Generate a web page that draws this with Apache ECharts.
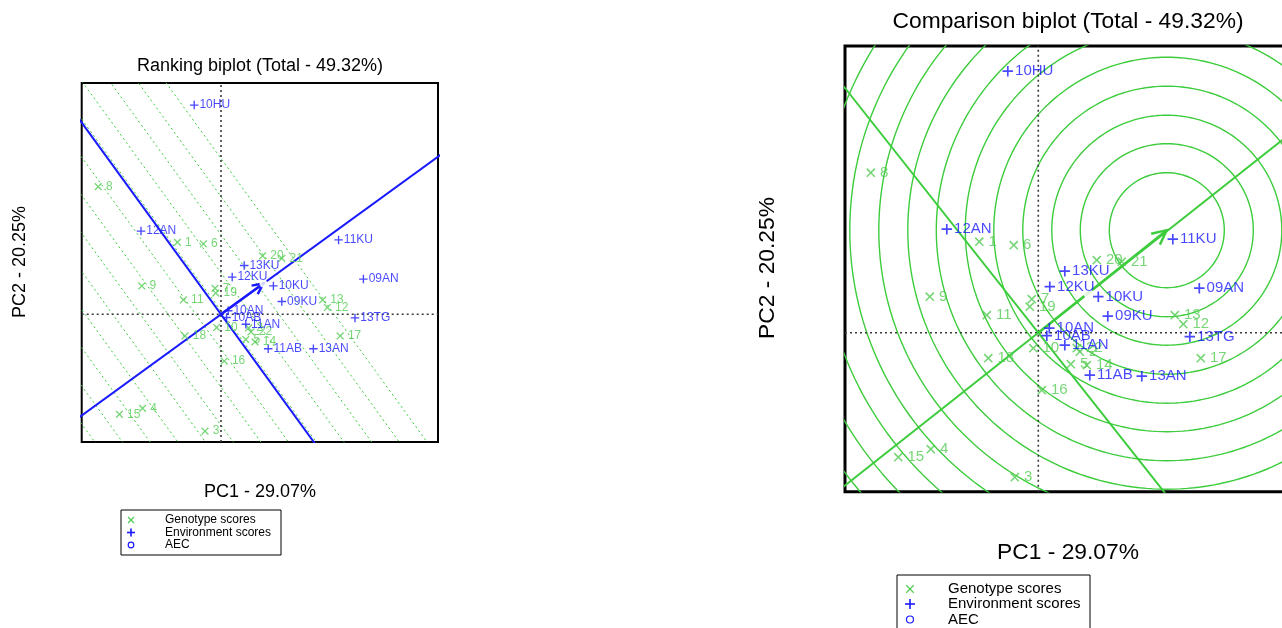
<!DOCTYPE html>
<html>
<head>
<meta charset="utf-8">
<script src="https://cdn.jsdelivr.net/npm/echarts@6/dist/echarts.min.js"></script>
<style>
  html, body { margin: 0; padding: 0; background: #fff; }
  #c { width: 1282px; height: 628px; }
</style>
</head>
<body>
<div id="c"></div>
<script>
// ---- Biplot scores (PC1, PC2) ----
const genotypeNames = ['1','2','3','4','5','6','7','8','9','10','11','12','13','14','15','16','17','18','19','20','21','22'];
const envNames = ['10HU','12AN','11KU','13KU','12KU','10KU','09AN','09KU','13TG','10AN','10AB','11AN','11AB','13AN'];

// Ranking biplot
const rankGenoX = [-1.09, 0.69, -0.40, -1.96, 0.62, -0.44, -0.15, -3.07, -1.98, -0.11, -0.94, 2.66, 2.54, 0.85, -2.54, 0.08, 2.98, -0.90, -0.13, 1.04, 1.52, 0.75];
const rankGenoY = [1.80, -0.34, -2.92, -2.35, -0.63, 1.76, 0.65, 3.19, 0.71, -0.33, 0.36, 0.17, 0.36, -0.69, -2.50, -1.17, -0.54, -0.54, 0.53, 1.46, 1.40, -0.44];
const rankEnvX = [-0.67, -2.00, 2.94, 0.58, 0.28, 1.31, 3.56, 1.52, 3.35, 0.18, 0.14, 0.62, 1.18, 2.31];
const rankEnvY = [5.23, 2.08, 1.86, 1.22, 0.93, 0.71, 0.88, 0.32, -0.09, 0.09, -0.08, -0.25, -0.86, -0.86];
const rankAEC = [1.06, 0.77];
// positions of the ranking guide lines along the AEC abscissa
const rankLevels = [2.29, 1.73, 1.17, 0.61, 0.05, -0.51, -1.07, -1.63, -2.19, -2.75, -3.31, -3.87, -4.43];

// Comparison biplot
const compGenoX = [-1.18, 0.83, -0.47, -2.15, 0.65, -0.49, -0.13, -3.35, -2.17, -0.10, -1.03, 2.90, 2.73, 0.97, -2.80, 0.07, 3.25, -1.00, -0.17, 1.17, 1.67, 0.77];
const compGenoY = [1.82, -0.38, -2.89, -2.33, -0.63, 1.75, 0.67, 3.20, 0.72, -0.31, 0.35, 0.17, 0.35, -0.65, -2.49, -1.15, -0.51, -0.51, 0.52, 1.45, 1.42, -0.31];
const compEnvX = [-0.61, -1.83, 2.69, 0.53, 0.23, 1.20, 3.22, 1.39, 3.03, 0.22, 0.17, 0.53, 1.03, 2.07];
const compEnvY = [5.23, 2.07, 1.87, 1.23, 0.92, 0.72, 0.89, 0.33, -0.08, 0.09, -0.06, -0.25, -0.85, -0.87];
const compAEC = [1.00, 0.79];
const compIdeal = [2.57, 2.05];
const compRingRadii = [1.15, 1.73, 2.30, 2.88, 3.46, 4.03, 4.61, 5.18, 5.76, 6.34, 6.91, 7.49, 8.06];

// ---- styling ----
const FONT = '"Liberation Sans", Arial, Helvetica, sans-serif';
const BLUE = '#1a1aff';
const GENO = '#55cc55';
const GUIDE = '#3ccc3c';
const PLUS = 'path://M4.2,0H5.8V4.2H10V5.8H5.8V10H4.2V5.8H0V4.2H4.2Z';
const THIN = 'path://M4.3,0H5.7V4.3H10V5.7H5.7V10H4.3V5.7H0V4.3H4.3Z';

const panels = [
  { grid: { left: 81.7, top: 83, width: 356.3, height: 359 }, x: [-3.4825, 5.425], y: [-3.1925, 5.7825], border: 2 },
  { grid: { left: 845, top: 46, width: 445, height: 445.7 }, x: [-3.866, 5.034], y: [-3.18, 5.734], border: 3 }
];

function zip(xs, ys, names) { return xs.map((x, i) => ({ value: [x, ys[i]], name: names[i] })); }

function seg(i, p, q, color, width, type, z) {
  return { type: 'line', xAxisIndex: i, yAxisIndex: i, data: [p, q], symbol: 'none', showSymbol: false,
    silent: true, clip: true, z: z || 2, lineStyle: { color, width, type: type || 'solid' } };
}

function arrow(i, tip, color, head, lw) {
  return { type: 'custom', xAxisIndex: i, yAxisIndex: i, data: [tip], silent: true, z: 6, clip: true,
    renderItem(params, api) {
      const p1 = api.coord([0, 0]);
      const p2 = api.coord([api.value(0), api.value(1)]);
      const ang = Math.atan2(p2[1] - p1[1], p2[0] - p1[0]);
      const a1 = ang + Math.PI - 0.45, a2 = ang + Math.PI + 0.45;
      return { type: 'group', children: [
        { type: 'line', shape: { x1: p1[0], y1: p1[1], x2: p2[0], y2: p2[1] }, style: { stroke: color, lineWidth: lw } },
        { type: 'polyline', shape: { points: [
            [p2[0] + head * Math.cos(a1), p2[1] + head * Math.sin(a1)], p2,
            [p2[0] + head * Math.cos(a2), p2[1] + head * Math.sin(a2)]] },
          style: { stroke: color, fill: null, lineWidth: lw } }
      ] };
    } };
}

function scoreSeries(i, name, data, symbol, size, rotate, color, fontSize, gap) {
  return { type: 'scatter', name, xAxisIndex: i, yAxisIndex: i, data, symbol, symbolSize: size, symbolRotate: rotate,
    silent: true, z: 8, itemStyle: { color },
    label: { show: true, position: 'right', distance: gap, formatter: '{b}', color, fontSize, fontFamily: FONT } };
}

const series = [];

// axes through the origin (dotted)
panels.forEach((p, i) => {
  series.push(seg(i, [p.x[0], 0], [p.x[1], 0], '#3a3a3a', 1.6, [2, 3], 3));
  series.push(seg(i, [0, p.y[0]], [0, p.y[1]], '#3a3a3a', 1.6, [2, 3], 3));
});

// Ranking biplot: AEC abscissa / ordinate and ranking guide lines
(function () {
  const L = Math.hypot(rankAEC[0], rankAEC[1]);
  const u = [rankAEC[0] / L, rankAEC[1] / L];
  const v = [-u[1], u[0]];
  const far = 30;
  rankLevels.forEach(t => {
    series.push(seg(0, [t * u[0] + far * v[0], t * u[1] + far * v[1]], [t * u[0] - far * v[0], t * u[1] - far * v[1]], GUIDE, 1, [2, 3], 1));
  });
  series.push(seg(0, [-far * u[0], -far * u[1]], [far * u[0], far * u[1]], BLUE, 2, 'solid', 4));
  series.push(seg(0, [-far * v[0], -far * v[1]], [far * v[0], far * v[1]], BLUE, 2, 'solid', 4));
  series.push(arrow(0, rankAEC, BLUE, 12, 2.5));
})();

// Comparison biplot: rings around the ideal genotype, AEC lines
(function () {
  const L = Math.hypot(compAEC[0], compAEC[1]);
  const u = [compAEC[0] / L, compAEC[1] / L];
  const v = [-u[1], u[0]];
  const far = 30;
  compRingRadii.forEach(r => {
    const pts = [];
    for (let k = 0; k <= 240; k++) {
      const a = (k / 240) * Math.PI * 2;
      pts.push([compIdeal[0] + r * Math.cos(a), compIdeal[1] + r * Math.sin(a)]);
    }
    series.push({ type: 'line', xAxisIndex: 1, yAxisIndex: 1, data: pts, symbol: 'none', showSymbol: false,
      silent: true, clip: true, z: 1, lineStyle: { color: GUIDE, width: 1.4 } });
  });
  series.push(seg(1, [-far * u[0], -far * u[1]], [far * u[0], far * u[1]], GUIDE, 2, 'solid', 4));
  series.push(seg(1, [-far * v[0], -far * v[1]], [far * v[0], far * v[1]], GUIDE, 2, 'solid', 4));
  series.push(arrow(1, compIdeal, GUIDE, 16, 2.4));
})();

// score markers with labels
series.push(scoreSeries(0, 'Genotype scores', zip(rankGenoX, rankGenoY, genotypeNames), THIN, 9.5, 45, GENO, 12, 1));
series.push(scoreSeries(0, 'Environment scores', zip(rankEnvX, rankEnvY, envNames), PLUS, 8.5, 0, BLUE, 12, 1));
series.push(scoreSeries(1, 'Genotype scores', zip(compGenoX, compGenoY, genotypeNames), THIN, 11.5, 45, GENO, 15, 1));
series.push(scoreSeries(1, 'Environment scores', zip(compEnvX, compEnvY, envNames), PLUS, 10.5, 0, BLUE, 15, 2));
[[0, rankAEC, 6], [1, compAEC, 8]].forEach(([i, pt, s]) => {
  series.push({ type: 'scatter', name: 'AEC', xAxisIndex: i, yAxisIndex: i, data: [pt], symbol: 'emptyCircle', symbolSize: s,
    silent: true, z: 7, itemStyle: { color: '#fff', borderColor: BLUE, borderWidth: 1.2 } });
});

// ---- text and legend boxes ----
function txt(x, y, text, size, extra) {
  return Object.assign({ type: 'text', x, y, silent: true, z: 20,
    style: { text, fill: '#000', font: size + 'px ' + FONT, align: 'center', verticalAlign: 'middle' } }, extra || {});
}
function mark(kind, cx, cy, r, color, lw) {
  if (kind === 'o') return [{ type: 'circle', shape: { cx, cy, r }, style: { fill: null, stroke: color, lineWidth: lw }, z: 21 }];
  const d = kind === 'x' ? r * 0.75 : r;
  const lines = kind === 'x'
    ? [[cx - d, cy - d, cx + d, cy + d], [cx - d, cy + d, cx + d, cy - d]]
    : [[cx - d, cy, cx + d, cy], [cx, cy - d, cx, cy + d]];
  return lines.map(l => ({ type: 'line', z: 21, shape: { x1: l[0], y1: l[1], x2: l[2], y2: l[3] },
    style: { stroke: color, lineWidth: lw } }));
}
function legendBox(x, y, w, h, mx, tx, rows, size, r) {
  let els = [{ type: 'rect', shape: { x, y, width: w, height: h }, style: { fill: '#fff', stroke: '#000', lineWidth: 1 }, z: 19 }];
  const items = [['x', 'Genotype scores', GENO], ['+', 'Environment scores', BLUE], ['o', 'AEC', BLUE]];
  items.forEach((it, k) => {
    els = els.concat(mark(it[0], mx, rows[k], it[0] === 'o' ? r * 0.7 : r, it[2], it[0] === '+' ? 1.6 : 1.2));
    els.push({ type: 'text', x: tx, y: rows[k], silent: true, z: 20,
      style: { text: it[1], fill: '#000', font: size + 'px ' + FONT, align: 'left', verticalAlign: 'middle' } });
  });
  return els;
}

const graphic = [
  txt(260, 66, 'Ranking biplot (Total - 49.32%)', 18),
  txt(260, 492, 'PC1 - 29.07%', 18),
  txt(20, 262, 'PC2 - 20.25%', 18, { rotation: Math.PI / 2 }),
  txt(1068, 22, 'Comparison biplot (Total - 49.32%)', 22.8),
  txt(1068, 553, 'PC1 - 29.07%', 22.8),
  txt(768, 268, 'PC2 - 20.25%', 22.8, { rotation: Math.PI / 2 })
].concat(
  legendBox(121, 510, 160, 45, 131, 165, [520, 532.5, 545], 12, 4),
  legendBox(897, 575, 193, 70, 910, 948, [589, 604, 619.5], 15, 5)
);

const chart = echarts.init(document.getElementById('c'), null, { renderer: 'canvas' });
chart.setOption({
  animation: false,
  backgroundColor: '#fff',
  grid: panels.map(p => Object.assign({ show: true, borderColor: '#000', borderWidth: p.border, backgroundColor: 'transparent',
    containLabel: false, outerBoundsMode: 'none' }, p.grid)),
  xAxis: panels.map((p, i) => ({ type: 'value', gridIndex: i, min: p.x[0], max: p.x[1], show: false, splitLine: { show: false } })),
  yAxis: panels.map((p, i) => ({ type: 'value', gridIndex: i, min: p.y[0], max: p.y[1], show: false, splitLine: { show: false } })),
  series,
  graphic
});
</script>
</body>
</html>
